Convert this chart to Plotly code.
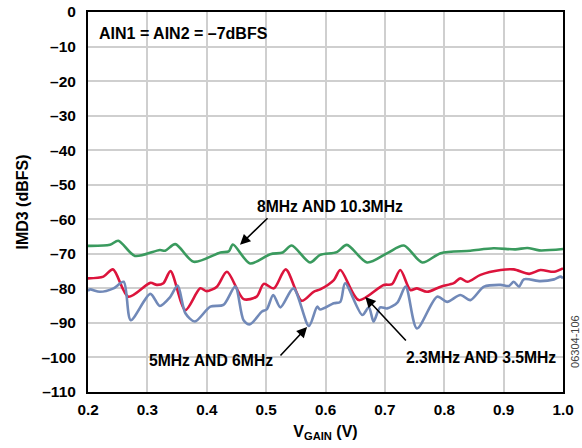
import plotly.graph_objects as go

# IMD3 vs VGAIN, three tone pairs
green_x = [0.2, 0.237, 0.251, 0.279, 0.321, 0.33, 0.347, 0.378, 0.423, 0.437, 0.444, 0.473,
           0.507, 0.528, 0.543, 0.574, 0.591, 0.619, 0.636, 0.670, 0.704, 0.732, 0.763, 0.794,
           0.844, 0.883, 0.92, 0.94, 0.96, 1.0]
green_y = [-67.7, -67.4, -66.2, -70.6, -68.9, -69.1, -67.2, -72.3, -69.6, -69.3, -67.3, -72.8,
           -70.1, -69.6, -67.6, -72.5, -70.3, -69.5, -67.4, -72.5, -69.8, -67.6, -72.5, -69.8,
           -69.1, -68.4, -68.7, -68.3, -69.0, -68.6]

red_x = [0.2, 0.226, 0.242, 0.268, 0.305, 0.316, 0.327, 0.339, 0.364, 0.389, 0.400, 0.417,
         0.434, 0.462, 0.484, 0.496, 0.513, 0.533, 0.560, 0.580, 0.591, 0.614, 0.625, 0.656,
         0.698, 0.712, 0.726, 0.743, 0.754, 0.771, 0.794, 0.816, 0.827, 0.839, 0.861, 0.895,
         0.917, 0.943, 0.962, 0.985, 1.0]
red_y = [-77.1, -76.6, -74.5, -82.4, -78.4, -79.0, -78.5, -75.0, -86.3, -80.0, -80.8, -79.5,
         -75.2, -83.1, -82.4, -78.7, -80.0, -74.5, -83.6, -81.0, -80.3, -77.6, -74.7, -83.4,
         -79.0, -78.8, -74.7, -80.5, -80.0, -81.0, -79.5, -78.5, -77.1, -78.1, -76.1, -74.7,
         -74.5, -75.8, -74.7, -75.2, -74.2]

blue_x = [0.2, 0.203, 0.220, 0.243, 0.260, 0.272, 0.305, 0.321, 0.338, 0.351, 0.364, 0.380,
          0.406, 0.428, 0.448, 0.462, 0.473, 0.493, 0.501, 0.512, 0.524, 0.546, 0.572, 0.586,
          0.591, 0.614, 0.625, 0.633, 0.662, 0.673, 0.681, 0.692, 0.704, 0.721, 0.735, 0.754,
          0.788, 0.805, 0.827, 0.844, 0.867, 0.895, 0.909, 0.917, 0.926, 0.934, 0.962, 0.985,
          0.996, 1.0]
blue_y = [-80.8, -80.3, -81.0, -80.0, -78.1, -89.2, -81.6, -85.1, -82.6, -79.2, -87.2, -89.6,
          -85.3, -84.8, -79.5, -89.2, -90.4, -86.7, -86.1, -81.9, -85.5, -80.0, -90.9, -85.3,
          -86.1, -84.3, -83.9, -78.5, -87.7, -85.5, -89.6, -85.5, -85.8, -84.1, -79.5, -91.6,
          -82.4, -83.9, -81.9, -83.4, -79.5, -79.0, -79.3, -78.1, -79.5, -77.4, -77.9, -77.4,
          -76.6, -77.1]

y_ticks = list(range(0, -111, -10))
y_labels = ["0"] + [f"–{abs(v)}" for v in y_ticks[1:]]
x_ticks = [0.2, 0.3, 0.4, 0.5, 0.6, 0.7, 0.8, 0.9, 1.0]
x_labels = [f"{v:.1f}" for v in x_ticks]

FONT = "Liberation Sans, Arial, sans-serif"


def bold(size):
    return dict(family=FONT, size=size, color="black", weight="bold")


fig = go.Figure()
for xs, ys, col in [(green_x, green_y, "#3a9a5e"),
                    (red_x, red_y, "#dc143c"),
                    (blue_x, blue_y, "#7189b8")]:
    fig.add_scatter(x=xs, y=ys, mode="lines",
                    line=dict(color=col, width=2.6, shape="spline", smoothing=0.8),
                    showlegend=False, hoverinfo="skip")

axis_common = dict(showgrid=True, gridcolor="#cfcfcf", gridwidth=1.5,
                   showline=True, linecolor="black", linewidth=2, mirror=True,
                   ticks="", zeroline=False, automargin=False)
fig.update_xaxes(range=[0.2, 1.0], tickvals=x_ticks, ticktext=x_labels, tickfont=bold(15.3),
                 ticklabelstandoff=3,
                 title=dict(text="V<sub>GAIN</sub> (V)", font=bold(16), standoff=8),
                 **axis_common)
fig.update_yaxes(range=[-110, 0], tickvals=y_ticks, ticktext=y_labels, tickfont=bold(15.5),
                 ticklabelstandoff=7,
                 title=dict(text="IMD3 (dBFS)", font=bold(16), standoff=9),
                 **axis_common)

fig.add_annotation(text="AIN1 = AIN2 = –7dBFS", xref="paper", x=0.018, y=-6.1,
                   xanchor="left", showarrow=False, font=bold(16))

# tone-pair labels and arrows
labels = [("8MHz AND 10.3MHz", 0.509, -56.4),
          ("5MHz AND 6MHz", 0.259, -100.9),
          ("2.3MHz AND 3.5MHz", 0.827, -99.96)]
for txt, lx, ly in labels:
    fig.add_annotation(text=txt, xref="paper", x=lx, y=ly, xanchor="center",
                       yanchor="middle", showarrow=False, font=bold(15.7))

arrows = [(0.456, -67.4, 29, -28), (0.569, -91.2, -28, 30), (0.667, -82.5, 42, 45)]
for hx, hy, dx, dy in arrows:
    fig.add_annotation(x=hx, y=hy, ax=dx, ay=dy, showarrow=True, arrowhead=2,
                       arrowsize=1.3, arrowwidth=1.6, arrowcolor="black", text="")

fig.add_annotation(text="06304-106", xref="paper", yref="paper", x=1.025, y=0.134,
                   xanchor="center", yanchor="middle", textangle=-90, showarrow=False,
                   font=dict(family=FONT, size=11, color="#444444"))

fig.update_layout(width=582, height=448, plot_bgcolor="white", paper_bgcolor="white",
                  margin=dict(l=88, r=19, t=12, b=56))

fig.write_html("out.html", config={"displayModeBar": False},
               post_script="document.body.style.margin='0';")
